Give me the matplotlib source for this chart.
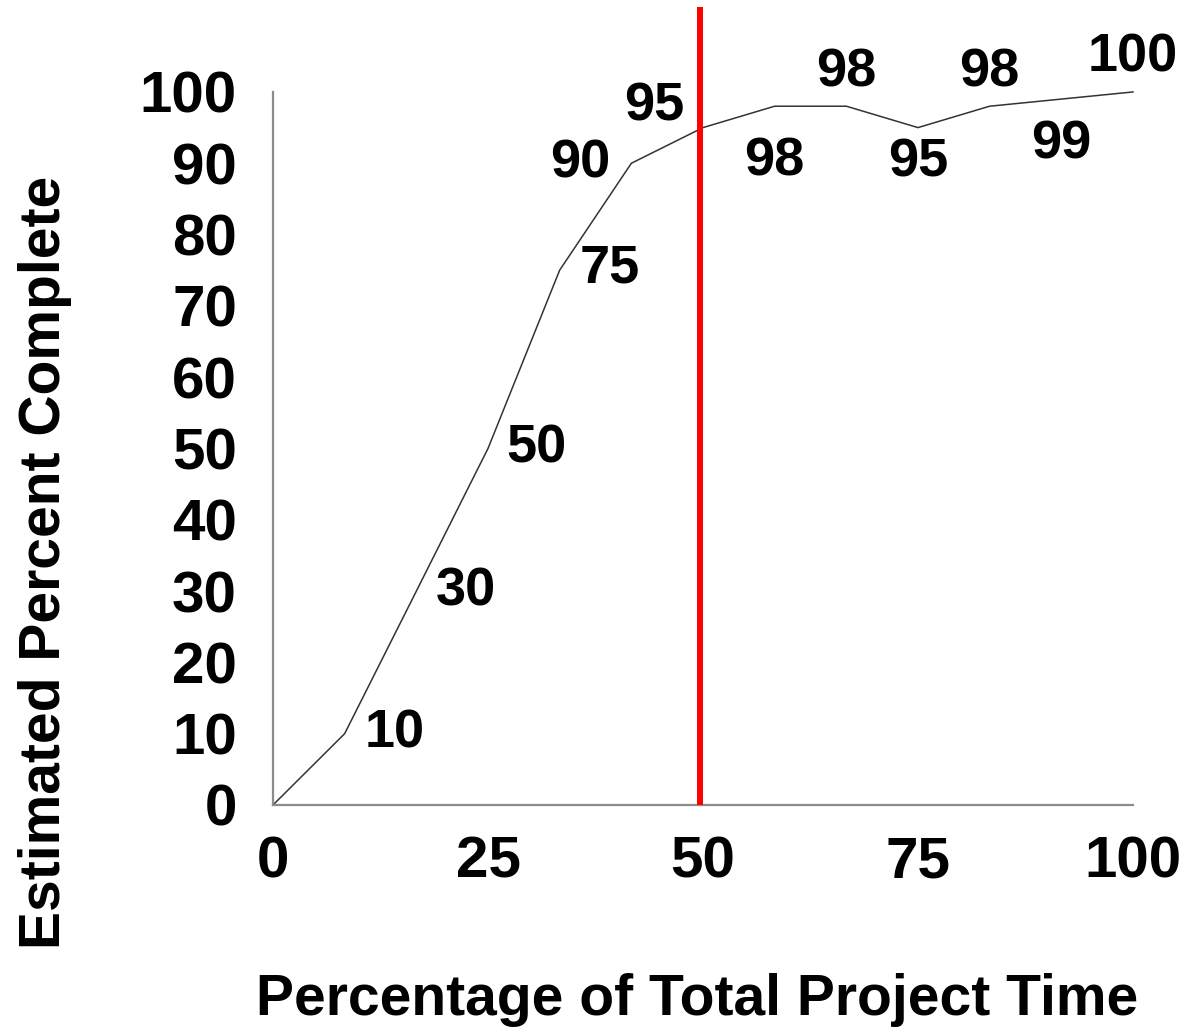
import numpy as np
import matplotlib.pyplot as plt

plt.rcParams['font.family'] = ['Liberation Sans', 'DejaVu Sans']
plt.rcParams['font.weight'] = 'bold'

# data
time_pct = [0, 8.33, 16.67, 25, 33.33, 41.67, 50, 58.33, 66.67, 75, 83.33, 91.67, 100]
est_complete = [0, 10, 30, 50, 75, 90, 95, 98, 98, 95, 98, 99, 100]
x_ticks = [0, 25, 50, 75, 100]
y_ticks = [0, 10, 20, 30, 40, 50, 60, 70, 80, 90, 100]
marker_x = 49.7

# label offsets in points (style only)
label_offsets = [None, (36, 0), (36, 0), (35, 0), (36, 1), (-37, 0), (-35, 15),
                 (0, -40), (0, 24), (0, -25), (0, 24), (0, -33), (0, 25)]

fig = plt.figure(figsize=(11.85, 10.32), dpi=100)
ax = fig.add_axes([0.2304, 0.2200, 0.7257, 0.6909])

ax.plot(time_pct, est_complete, color='#333333', lw=1.1, clip_on=False)

for x, y, off in zip(time_pct, est_complete, label_offsets):
    if off is None:
        continue
    ax.annotate(str(y), (x, y), xytext=off, textcoords='offset points',
                ha='center', va='center', fontsize=39, fontweight='bold')

# red reference line, runs above the axes
ax.plot([marker_x, marker_x], [0, 111.9], color='#ff0000', lw=4.3,
        clip_on=False, solid_capstyle='butt', zorder=5)

ax.set_xlim(0, 100)
ax.set_ylim(0, 100)
ax.set_xticks(x_ticks)
ax.set_yticks(y_ticks)
ax.tick_params(length=0, labelsize=42, pad=26)
ax.tick_params(axis='x', pad=22)
for lab in ax.get_xticklabels() + ax.get_yticklabels():
    lab.set_fontweight('bold')

for side in ['top', 'right']:
    ax.spines[side].set_visible(False)
for side in ['left', 'bottom']:
    ax.spines[side].set_color('#8c8c8c')
    ax.spines[side].set_linewidth(1.6)

fig.text(0.588, 0.031, 'Percentage of Total Project Time', ha='center', va='center',
         fontsize=41, fontweight='bold')
fig.text(0.038, 0.455, 'Estimated Percent Complete', ha='center', va='center',
         rotation=90, fontsize=41, fontweight='bold')

fig.savefig('out.png', dpi=100)
